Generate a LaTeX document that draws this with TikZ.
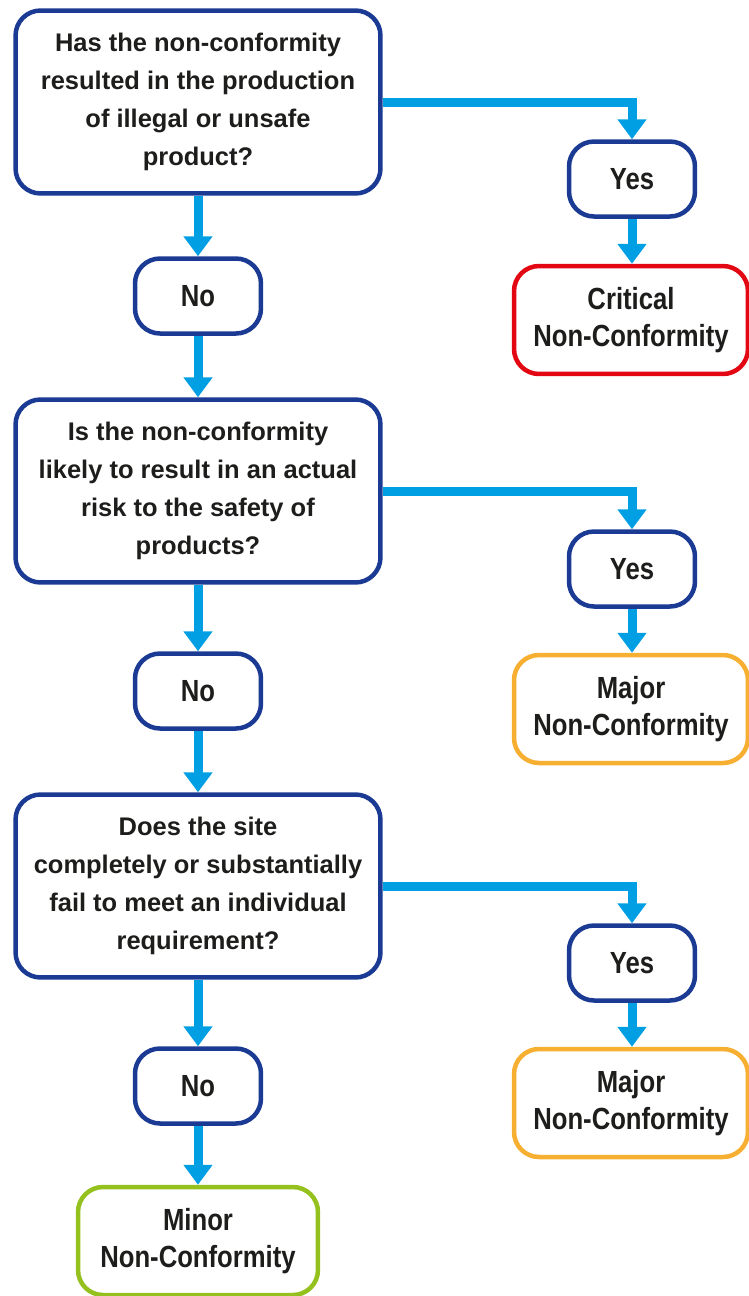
\documentclass[tikz,border=0pt]{standalone}
\usepackage{fontspec}
\newfontfamily\askfont{Liberation Sans}
\newfontfamily\tagfont{Liberation Sans}[FakeStretch=0.84]
\usetikzlibrary{arrows.meta}

\definecolor{ncnavy}{HTML}{1B3A94}
\definecolor{ncblue}{HTML}{009FE3}
\definecolor{ncred}{HTML}{E30613}
\definecolor{ncorange}{HTML}{F7AF31}
\definecolor{nclime}{HTML}{95C11F}
\definecolor{nctext}{HTML}{1D1D1B}

\begin{document}
\begin{tikzpicture}[x=0.02cm, y=-0.02cm,
  % Node Styles
  qnode/.style={rectangle, rounded corners=0.5cm, draw=ncnavy, line width=0.09cm, fill=white, text=nctext, minimum width=7.3cm, minimum height=3.66cm, align=center, font=\askfont\bfseries\fontsize{14.5}{21.7}\selectfont},
  anode/.style={rectangle, rounded corners=0.5cm, draw=ncnavy, line width=0.09cm, fill=white, text=nctext, minimum width=2.52cm, minimum height=1.5cm, align=center, font=\tagfont\bfseries\fontsize{17.4}{21.5}\selectfont},
  rnode/.style={rectangle, rounded corners=0.5cm, line width=0.09cm, fill=white, text=nctext, minimum width=4.68cm, minimum height=2.16cm, align=center, font=\tagfont\bfseries\fontsize{17.4}{21.5}\selectfont},
  % Arrow Styles
  flowarrow/.style={-{Triangle[width=0.56cm, length=0.4cm]}, line width=0.18cm, ncblue}
]
\useasboundingbox (0,0) rectangle (748,1296);

% Questions
\node[qnode] (Q1) at (198,102) {Has the non-conformity\\resulted in the production\\of illegal or unsafe\\product?};
\node[qnode] (Q2) at (198,491) {Is the non-conformity\\likely to result in an actual\\risk to the safety of\\products?};
\node[qnode] (Q3) at (198,886) {Does the site\\completely or substantially\\fail to meet an individual\\requirement?};

% No / Yes
\node[anode] (N1) at (198,296) {No};
\node[anode] (N2) at (198,691) {No};
\node[anode] (N3) at (198,1086) {No};
\node[anode] (Y1) at (632,179) {Yes};
\node[anode] (Y2) at (632,569) {Yes};
\node[anode] (Y3) at (632,963) {Yes};

% Outcomes
\node[rnode, draw=ncred] (R1) at (631,320) {Critical\\Non-Conformity};
\node[rnode, draw=ncorange] (R2) at (631,709) {Major\\Non-Conformity};
\node[rnode, draw=ncorange] (R3) at (631,1103) {Major\\Non-Conformity};
\node[rnode, draw=nclime, minimum width=4.8cm] (R4) at (198,1241) {Minor\\Non-Conformity};

% Connectors
\draw[flowarrow] (Q1) -- (N1);
\draw[flowarrow] (N1) -- (Q2);
\draw[flowarrow] (Q2) -- (N2);
\draw[flowarrow] (N2) -- (Q3);
\draw[flowarrow] (Q3) -- (N3);
\draw[flowarrow] (N3) -- (R4);
\draw[flowarrow] (Q1.east) -| (Y1.north);
\draw[flowarrow] (Q2.east) -| (Y2.north);
\draw[flowarrow] (Q3.east) -| (Y3.north);
\draw[flowarrow] (Y1) -- (Y1 |- R1.north);
\draw[flowarrow] (Y2) -- (Y2 |- R2.north);
\draw[flowarrow] (Y3) -- (Y3 |- R3.north);

\end{tikzpicture}
\end{document}
